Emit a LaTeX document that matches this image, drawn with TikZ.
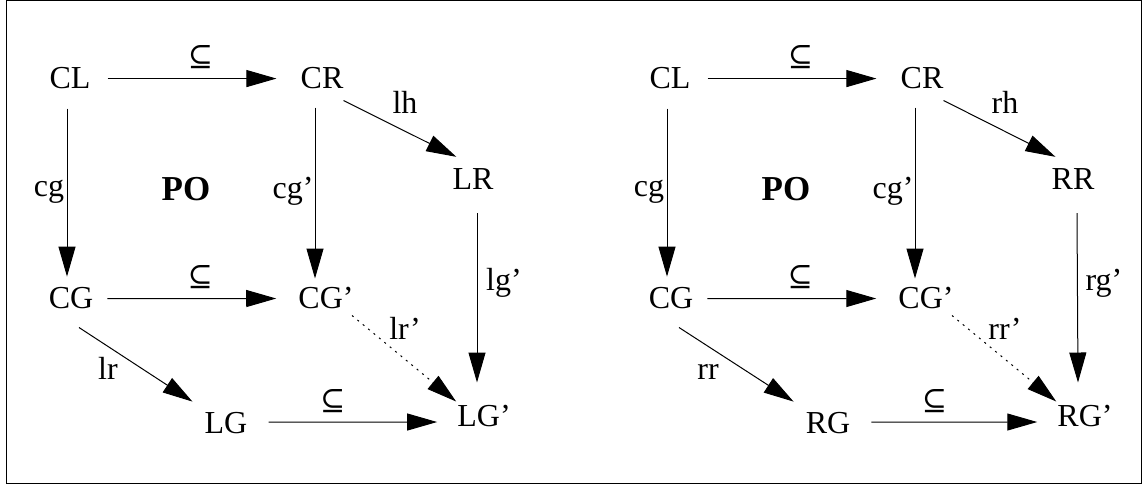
\documentclass[tikz,border=0pt]{standalone}
\usepackage{fontspec}
\setmainfont{Liberation Serif}
\newfontfamily\symfont{DejaVu Serif}
\usetikzlibrary{arrows.meta,calc}
\tikzset{
  obj/.style={anchor=base, inner sep=0pt, font=\fontsize{32}{36}\selectfont},
  lbl/.style={obj},
  bold/.style={obj, font=\fontsize{35}{40}\selectfont\bfseries},
  incl/.style={inner sep=0pt, font=\fontsize{30}{34}\selectfont\symfont},
  arr/.style={-{Triangle[length=30pt,width=17pt]}, line width=1pt},
  dotarr/.style={arr, dash pattern=on 2pt off 5pt},
}
\begin{document}
\begin{tikzpicture}[x=1pt,y=-1pt]
  \useasboundingbox (0,0) rectangle (1144,486);
  \draw[line width=1pt] (6,1) rectangle (1141,483);
  % left cube
  \node[obj] (lCL) at (70,89) {CL};
  \node[obj] (lCR) at (322,89) {CR};
  \node[obj] (lXR) at (473,190) {LR};
  \node[obj] (lCG) at (71,309) {CG};
  \node[obj] (lCGp) at (326,309) {CG'};
  \node[obj] (lXG) at (226,434) {LG};
  \node[obj] (lXGp) at (484,427) {LG'};
  \draw[arr] ($(lCL.east)+(17,0)$) -- node[incl, pos=0.55, above=9pt] {⊆} ($(lCR.west)+(-24,0)$);
  \draw[arr] ($(lCL.south)+(-3,19)$) -- ($(lCG.north)+(-4,-11)$);
  \draw[arr] ($(lCR.south)+(-7,18)$) -- ($(lCGp.north)+(-11,-9)$);
  \draw[arr] ($(lCR.south east)+(0,11)$) -- ($(lXR.north west)+(4,-12)$);
  \draw[arr] ($(lXR.south)+(4,23)$) -- ($(lXGp.north)+(-7,-23)$);
  \draw[arr] ($(lCG.east)+(14,0)$) -- node[incl, pos=0.55, above=9pt] {⊆} ($(lCGp.west)+(-22,0)$);
  \draw[arr] ($(lCG.south)+(8,18)$) -- ($(lXG.north west)+(-12,-11)$);
  \draw[dotarr] ($(lCGp.south)+(26,6)$) -- ($(lXGp.north west)+(-1,-4)$);
  \draw[arr] ($(lXG.east)+(21,-1.5)$) -- node[incl, pos=0.38, above=9pt] {⊆} ($(lXGp.west)+(-20,5.5)$);
  \node[lbl] (lcg) at (49,197) {cg};
  \node[bold] (lPO) at (186,201) {PO};
  \node[lbl] (lcgp) at (293,199) {cg'};
  \node[lbl] (llh) at (405,114) {lh};
  \node[lbl] (llgp) at (504,291) {lg'};
  \node[lbl] (llr) at (108,380) {lr};
  \node[lbl] (llrp) at (405,340) {lr'};
  % right cube
  \begin{scope}[xshift=600pt]
    \node[obj] (rCL) at (70,89) {CL};
    \node[obj] (rCR) at (322,89) {CR};
    \node[obj] (rXR) at (473,190) {RR};
    \node[obj] (rCG) at (71,309) {CG};
    \node[obj] (rCGp) at (326,309) {CG'};
    \node[obj] (rXG) at (228,434) {RG};
    \node[obj] (rXGp) at (485,427) {RG'};
    \draw[arr] ($(rCL.east)+(17,0)$) -- node[incl, pos=0.55, above=9pt] {⊆} ($(rCR.west)+(-24,0)$);
    \draw[arr] ($(rCL.south)+(-3,19)$) -- ($(rCG.north)+(-4,-11)$);
    \draw[arr] ($(rCR.south)+(-7,18)$) -- ($(rCGp.north)+(-11,-9)$);
    \draw[arr] ($(rCR.south east)+(0,11)$) -- ($(rXR.north west)+(4,-12)$);
    \draw[arr] ($(rXR.south)+(4,23)$) -- ($(rXGp.north)+(-7,-23)$);
    \draw[arr] ($(rCG.east)+(14,0)$) -- node[incl, pos=0.55, above=9pt] {⊆} ($(rCGp.west)+(-22,0)$);
    \draw[arr] ($(rCG.south)+(8,18)$) -- ($(rXG.north west)+(-12,-11)$);
    \draw[dotarr] ($(rCGp.south)+(26,6)$) -- ($(rXGp.north west)+(-1,-4)$);
    \draw[arr] ($(rXG.east)+(21,-1.5)$) -- node[incl, pos=0.38, above=9pt] {⊆} ($(rXGp.west)+(-20,5.5)$);
    \node[lbl] (rcg) at (49,197) {cg};
    \node[bold] (rPO) at (186,201) {PO};
    \node[lbl] (rcgp) at (293,199) {cg'};
    \node[lbl] (rrh) at (405,114) {rh};
    \node[lbl] (rrgp) at (504,291) {rg'};
    \node[lbl] (rrr) at (108,380) {rr};
    \node[lbl] (rrrp) at (405,340) {rr'};
  \end{scope}
\end{tikzpicture}
\end{document}
